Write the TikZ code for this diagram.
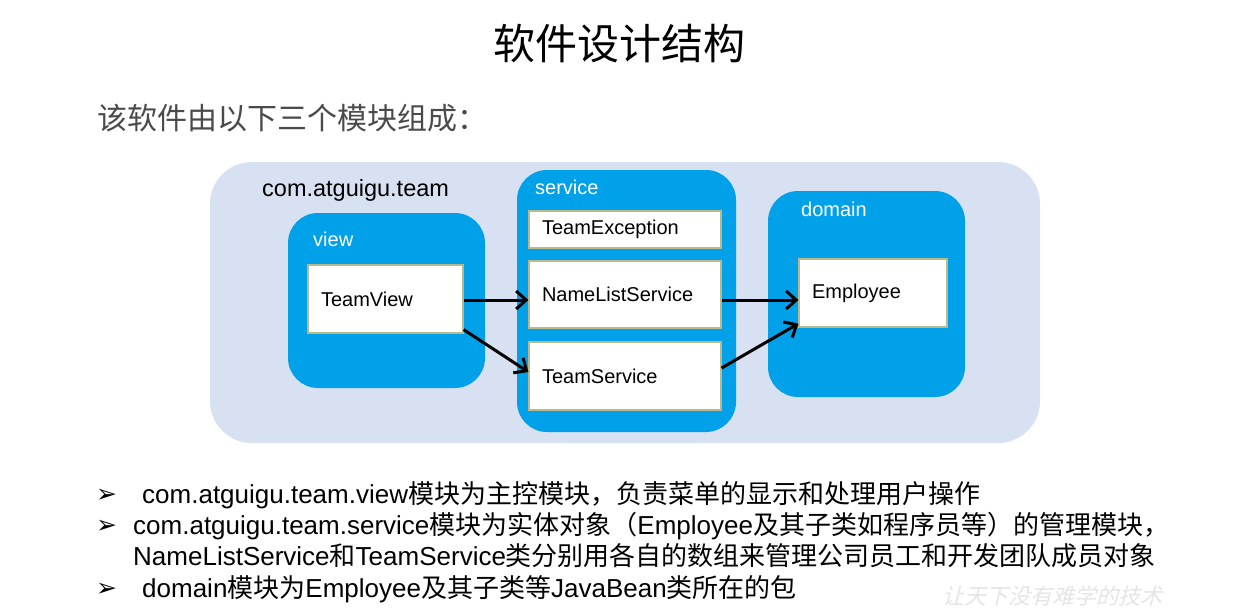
\documentclass[tikz,border=0pt]{standalone}
\usepackage{fontspec}
\setmainfont{Liberation Sans}
\newfontfamily\cjk{Noto Sans CJK SC}
\newfontfamily\cjkslant[FakeSlant=0.25]{Noto Sans CJK SC}
\newfontfamily\dejavu{DejaVu Sans}
\usetikzlibrary{arrows.meta,calc}
\definecolor{pkgbg}{HTML}{D7E1F1}
\definecolor{modblue}{HTML}{00A1E9}
\definecolor{clsborder}{HTML}{B9B98A}
\definecolor{subgray}{HTML}{4A4A4A}
\newcommand\zh[1]{{\cjk #1}}
\begin{document}
\begin{tikzpicture}[x=1pt,y=1pt,
  pkg/.style={fill=pkgbg, rounded corners=42pt, minimum width=830pt, minimum height=281pt, inner sep=0pt},
  module/.style={fill=modblue, rounded corners=30pt, inner sep=0pt},
  cls/.style={draw=clsborder, line width=1.2pt, fill=white, align=left, inner xsep=13pt, inner ysep=0pt, font=\fontsize{20}{24}\selectfont},
  modlabel/.style={text=white, anchor=west, inner sep=0pt, font=\fontsize{20}{24}\selectfont},
  dep/.style={line width=3pt, -{Straight Barb[length=10pt,width=18pt]}},
  bulletline/.style={anchor=base west, inner sep=0pt, font=\fontsize{26}{31}\selectfont},
  bulletmark/.style={anchor=base west, inner sep=0pt, font=\dejavu\bfseries\fontsize{25}{30}\selectfont}
]
\useasboundingbox (0,0) rectangle (1246,-610);
\clip (0,0) rectangle (1246,-610);
\fill[white] (0,0) rectangle (1246,-610);

% title and subtitle
\node[inner sep=0pt, font=\cjk\fontsize{42}{48}\selectfont] (title) at (619,-44) {软件设计结构};
\node[anchor=west, inner sep=0pt, text=subgray, font=\cjk\fontsize{30}{36}\selectfont] (sub) at (97,-118) {该软件由以下三个模块组成：};

% package background
\node[pkg] (pkg) at (625,-302.5) {};
\node[anchor=west, inner sep=0pt, font=\fontsize{23.5}{28}\selectfont] (pkglabel) at (262,-190) {com.atguigu.team};

% modules
\node[module, minimum width=197pt, minimum height=175pt] (view) at (386.5,-300.5) {};
\node[module, minimum width=219pt, minimum height=262pt] (service) at (626.5,-301) {};
\node[module, minimum width=197pt, minimum height=206pt] (domain) at (866.5,-294) {};
\node[modlabel] (viewlabel) at (313,-239) {view};
\node[modlabel] (servicelabel) at (535,-187) {service};
\node[modlabel] (domainlabel) at (801,-209) {domain};

% classes
\node[cls, text width=129pt, minimum height=68pt] (tv) at (385.5,-299) {TeamView};
\node[cls, text width=166pt, minimum height=37pt] (te) at (625,-229.5) {TeamException};
\node[cls, text width=166pt, minimum height=67pt] (nls) at (625,-294.5) {NameListService};
\node[cls, text width=166pt, minimum height=68pt] (ts) at (625,-376) {TeamService};
\node[cls, text width=122pt, minimum height=68pt] (emp) at (873,-293) {Employee};

% dependencies
\draw[dep] ($(tv.east)+(0,-1)$) -- ($(nls.west)+(0,-5.5)$);
\draw[dep] ($(tv.south east)+(0,4)$) -- ($(ts.west)+(0,4)$);
\draw[dep] ($(nls.east)+(0,-5.5)$) -- ($(emp.west)+(0,-7)$);
\draw[dep] ($(ts.east)+(0,8)$) -- ($(emp.south west)+(0,4)$);

% bullet list
\node[bulletmark] (b1) at (96,-502) {➢};
\node[bulletmark] (b2) at (96,-533) {➢};
\node[bulletmark] (b3) at (96,-596) {➢};
\node[bulletline] (l1) at (142,-503) {com.atguigu.team.view\zh{模块为主控模块，负责菜单的显示和处理用户操作}};
\node[bulletline] (l2) at (133,-534) {com.atguigu.team.service\zh{模块为实体对象（}Employee\zh{及其子类如程序员等）的管理模块，}};
\node[bulletline] (l3) at (133,-565) {NameListService\zh{和}TeamService\zh{类分别用各自的数组来管理公司员工和开发团队成员对象}};
\node[bulletline] (l4) at (142,-597) {domain\zh{模块为}Employee\zh{及其子类等}JavaBean\zh{类所在的包}};

% watermark
\node[anchor=north west, inner sep=0pt, text=black!10, font=\cjkslant\fontsize{22}{26}\selectfont] (wm) at (942,-586) {让天下没有难学的技术};
\end{tikzpicture}
\end{document}
